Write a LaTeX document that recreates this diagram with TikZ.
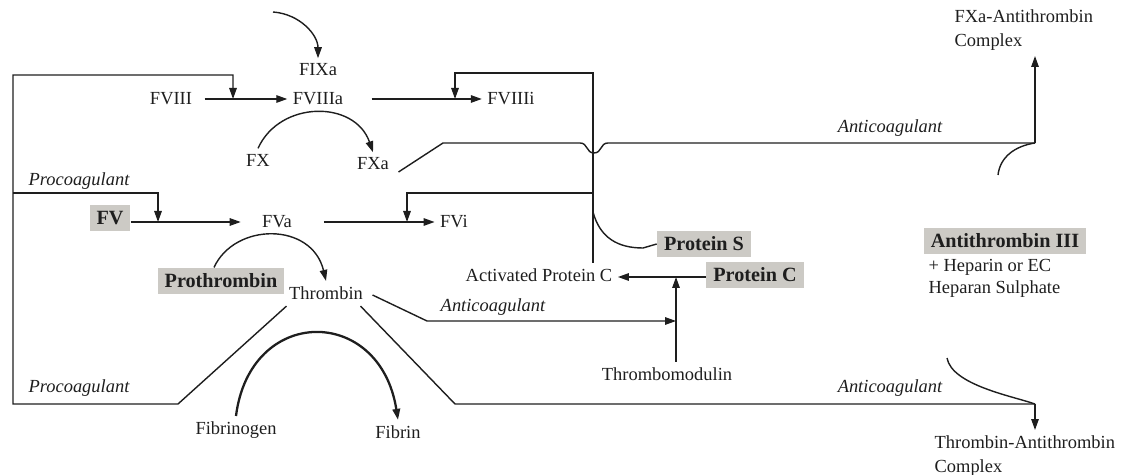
\documentclass[tikz,border=0pt]{standalone}
\usepackage{fontspec}
\setmainfont{Liberation Serif}
\usepackage{tikz}
\usetikzlibrary{arrows.meta,calc}
\definecolor{boxgray}{HTML}{CCCAC5}
\definecolor{ink}{HTML}{1E1E1E}
\tikzset{
  txt/.style={font=\fontsize{10.5}{13.5}\selectfont, text=ink, inner sep=3pt},
  fac/.style={txt, fill=boxgray, font=\fontsize{11.5}{13}\selectfont\bfseries, inner xsep=4pt, minimum height=15pt},
  eff/.style={txt, font=\fontsize{10.5}{13}\selectfont\itshape},
  ln/.style={line width=.8pt, draw=ink},
  ar/.style={ln, -{Triangle[length=2.2mm,width=1.5mm]}},
}

\begin{document}
\begin{tikzpicture}[x=0.02cm, y=-0.02cm]
  \useasboundingbox (0,0) rectangle (1128,475);
  % factors
  \node[txt] (fixa) at (318,70) {FIXa};
  \node[txt] (fviiia) at (318,99) {FVIIIa};
  \node[txt] (fviii) at (171,99) {FVIII};
  \node[txt] (fviiii) at (511,99) {FVIIIi};
  \node[txt] (fx) at (258,160) {FX};
  \node[txt] (fxa) at (373,164) {FXa};
  \node[fac] (fv) at (110,218) {FV};
  \node[txt] (fva) at (277,222) {FVa};
  \node[txt] (fvi) at (454,222) {FVi};
  \node[fac] (prot) at (221,281) {Prothrombin};
  \node[txt] (thr) at (326,293) {Thrombin};
  \node[txt] (fbg) at (236,430) {Fibrinogen};
  \node[txt] (fbn) at (398,432) {Fibrin};
  \node[txt] (apc) at (539,275) {Activated Protein C};
  \node[fac] (ps) at (704,244) {Protein S};
  \node[fac] (pc) at (755,275) {Protein C};
  \node[txt] (tm) at (667,374) {Thrombomodulin};
  \node[fac] (at) at (1005,241) {Antithrombin III};
  \node[txt, align=left, anchor=north west, font=\fontsize{10.5}{12.5}\selectfont] (hep) at (923,254) {+ Heparin or EC\\Heparan Sulphate};
  \node[txt, align=left, anchor=south west] (fxaat) at (949,56) {FXa-Antithrombin\\Complex};
  \node[txt, align=left, anchor=north west] (tat) at (929,430) {Thrombin-Antithrombin\\Complex};
  % effect labels
  \node[eff] (pro1) at (79,181) {Procoagulant};
  \node[eff] (pro2) at (79,388) {Procoagulant};
  \node[eff] (anti1) at (890,128) {Anticoagulant};
  \node[eff] (anti2) at (493,307) {Anticoagulant};
  \node[eff] (anti3) at (890,388) {Anticoagulant};
  % junctions
  \coordinate (j8) at (233,99);
  \coordinate (j5) at (158,222);
  \coordinate (j8i) at (455,99);
  \coordinate (j5i) at (407,222);
  \coordinate (apcup) at (593,263);
  \coordinate (jS) at (593,212);
  \coordinate (jC) at (676,277);
  \coordinate (jT) at (676,321);
  \coordinate (jA) at (1035,143);
  \coordinate (jB) at (1035,404);
  \coordinate (atA) at (998,175);
  \coordinate (atB) at (947,358);
  % activation
  \draw[ar] (273,12) .. controls (300,14) and (318,35) .. (fixa.north);
  \draw[ar] ([xshift=4pt]fviii.east) -- (fviiia.west);
  \draw[ar] ([xshift=13pt]fviiia.east) -- (fviiii.west);
  \draw[ar] (fx.north) .. controls (280,100) and (355,100) .. (fxa.north);
  \draw[ar] (fv.east |- j5) -- ([xshift=-9pt]fva.west);
  \draw[ar] ([xshift=15pt]fva.east) -- (fvi.west);
  \draw[ar] ([xshift=-4pt]prot.north) .. controls (235,222) and (312,222) .. (thr.north);
  \draw[ar, line width=1.3pt] (fbg.north) .. controls (250,305) and (380,305) .. (fbn.north);
  % thrombin feedback
  \draw[ar] ($(thr.south west)+(3,1)$) -- (178,404) -- (13,404) |- (233,75) -- (j8);
  \draw[ar] (13,193) -| (j5);
  \draw[ar] ($(thr.east)+(4,2)$) -- (427,321) -- (jT);
  \draw[ln] ($(thr.south east)+(-8,1)$) -- (455,404) -- (jB);
  % protein C
  \draw[ar] (apcup) -- (593,73) -| (j8i);
  \draw[ar] (593,193) -| (j5i);
  \draw[ln] (jS) .. controls (600,238) and (618,248) .. (643,248) -- (ps.west);
  \draw[ar] (pc.west |- jC) -- (apc.east |- jC);
  \draw[ar] (tm.north -| jC) -- (jC);
  % antithrombin
  \draw[ln] ($(fxa.east)+(4,8)$) -- (443,143) -- (580,143)
    .. controls (588,143) and (586,153) .. (594,153)
    .. controls (602,153) and (600,143) .. (608,143) -- (jA);
  \draw[ar] (jA) -- (fxaat.south -| jA);
  \draw[ln] (atA) .. controls (1000,157) and (1015,146) .. (jA);
  \draw[ar] (jB) -- (tat.north -| jB);
  \draw[ln] (atB) .. controls (952,385) and (1012,396) .. (jB);
\end{tikzpicture}
\end{document}
